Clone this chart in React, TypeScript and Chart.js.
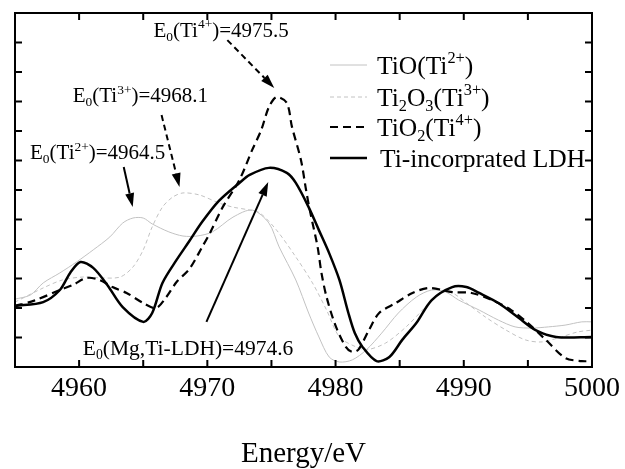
import React, { useEffect, useRef } from 'react';
import { Chart, registerables } from 'chart.js';

Chart.register(...registerables);

const FONT = "'Liberation Serif', 'Times New Roman', serif";

// ---- data ----
const tioE = [4955, 4956.2, 4957.2, 4958.5, 4959.8, 4961.1, 4962.4, 4963.4, 4964.2, 4965.0, 4965.7, 4967.0, 4968.1, 4969.2, 4970.4, 4972.0, 4973.5, 4974.8, 4975.6, 4976.9, 4977.9, 4978.7, 4979.5, 4980.3, 4981.3, 4982.4, 4983.6, 4984.9, 4986.3, 4987.5, 4988.6, 4989.6, 4991.2, 4992.7, 4994.0, 4995.3, 4996.6, 4997.9, 4999.2, 5000];
const tioY = [2.30, 2.44, 2.85, 3.19, 3.56, 3.97, 4.41, 4.88, 5.05, 5.05, 4.85, 4.58, 4.44, 4.44, 4.58, 5.08, 5.32, 4.88, 4.07, 2.95, 1.83, 1.02, 0.34, 0.17, 0.24, 0.58, 1.15, 1.83, 2.37, 2.61, 2.54, 2.27, 1.93, 1.59, 1.36, 1.32, 1.36, 1.42, 1.53, 1.53];

const ti2o3E = [4955, 4957.2, 4958.7, 4960.3, 4961.8, 4963.2, 4964.2, 4965.0, 4965.7, 4966.5, 4967.3, 4968.1, 4969.4, 4970.9, 4972.0, 4973.3, 4974.1, 4975.4, 4976.9, 4978.2, 4979.3, 4980.3, 4981.6, 4982.4, 4983.9, 4985.5, 4987.0, 4988.1, 4989.1, 4990.2, 4991.7, 4993.3, 4994.8, 4996.1, 4997.6, 4998.9, 5000];
const ti2o3Y = [2.20, 2.68, 2.95, 3.05, 3.02, 3.05, 3.39, 3.97, 4.75, 5.42, 5.76, 5.90, 5.83, 5.56, 5.42, 5.32, 5.22, 4.64, 3.73, 2.85, 1.93, 1.02, 0.68, 0.58, 0.81, 1.36, 2.03, 2.51, 2.51, 2.17, 1.69, 1.25, 0.92, 0.85, 1.02, 1.19, 1.25];

const tio2E = [4955, 4956.5, 4958.5, 4959.5, 4960.6, 4961.6, 4962.6, 4963.7, 4965.0, 4966.0, 4966.8, 4967.6, 4968.6, 4969.6, 4970.2, 4971.2, 4972.5, 4973.5, 4974.2, 4974.8, 4975.4, 4976.2, 4976.6, 4977.3, 4977.7, 4978.0, 4978.6, 4978.9, 4979.3, 4980.0, 4980.8, 4981.3, 4981.8, 4982.6, 4983.4, 4984.7, 4986.0, 4987.3, 4989.1, 4990.6, 4992.2, 4993.7, 4995.0, 4996.4, 4997.9, 4999.2, 5000];
const tio2Y = [2.07, 2.25, 2.61, 2.78, 3.02, 2.95, 2.71, 2.51, 2.17, 2.00, 2.37, 2.88, 3.32, 4.07, 4.54, 5.42, 6.34, 7.36, 8.03, 8.81, 9.15, 8.95, 8.14, 7.02, 6.00, 5.30, 4.07, 3.19, 2.37, 1.40, 0.68, 0.51, 0.60, 1.25, 1.83, 2.17, 2.51, 2.68, 2.54, 2.51, 2.27, 1.93, 1.49, 0.92, 0.31, 0.20, 0.20];

const ldhE = [4955, 4957.2, 4958.5, 4959.3, 4960.1, 4961.1, 4962.2, 4963.4, 4965.0, 4965.7, 4966.5, 4967.6, 4968.6, 4969.6, 4970.9, 4972.5, 4973.3, 4974.8, 4976.2, 4976.9, 4977.9, 4978.7, 4979.5, 4980.3, 4981.0, 4981.5, 4982.1, 4983.2, 4984.2, 4985.2, 4986.3, 4987.5, 4989.1, 4990.2, 4991.2, 4992.7, 4994.3, 4995.6, 4997.2, 5000];
const ldhY = [2.07, 2.20, 2.61, 3.19, 3.56, 3.36, 2.78, 2.03, 1.53, 1.83, 2.85, 3.63, 4.27, 4.92, 5.63, 6.24, 6.51, 6.75, 6.58, 6.24, 5.42, 4.64, 3.86, 2.95, 1.83, 1.15, 0.68, 0.20, 0.34, 0.92, 1.49, 2.27, 2.71, 2.71, 2.51, 2.17, 1.66, 1.25, 1.02, 1.02];

const xMin = 4955;
const xMax = 5000;
const xStep = 5;
const xLabelEvery = 10;
const yMin = 0;
const yMax = 12;
const xTitle = 'Energy/eV';

type Seg = [string, 'n' | 'sup' | 'sub'];

const seriesNames: Seg[][] = [
  [['TiO(Ti', 'n'], ['2+', 'sup'], [')', 'n']],
  [['Ti', 'n'], ['2', 'sub'], ['O', 'n'], ['3', 'sub'], ['(Ti', 'n'], ['3+', 'sup'], [')', 'n']],
  [['TiO', 'n'], ['2', 'sub'], ['(Ti', 'n'], ['4+', 'sup'], [')', 'n']],
  [['Ti-incorprated LDH', 'n']],
];

// annotation texts and arrows, anchored in data coordinates
const annotations: { segs: Seg[]; at: [number, number]; from: [number, number]; to: [number, number]; dashed: boolean; size: number }[] = [
  { segs: [['E', 'n'], ['0', 'sub'], ['(Ti', 'n'], ['4+', 'sup'], [')=4975.5', 'n']], at: [4965.8, 11.19], from: [4971.56, 11.08], to: [4975.22, 9.46], dashed: true, size: 21 },
  { segs: [['E', 'n'], ['0', 'sub'], ['(Ti', 'n'], ['3+', 'sup'], [')=4968.1', 'n']], at: [4959.5, 8.98], from: [4966.43, 8.54], to: [4967.83, 6.10], dashed: true, size: 21 },
  { segs: [['E', 'n'], ['0', 'sub'], ['(Ti', 'n'], ['2+', 'sup'], [')=4964.5', 'n']], at: [4956.17, 7.05], from: [4963.48, 6.78], to: [4964.18, 5.42], dashed: false, size: 21 },
  { segs: [['E', 'n'], ['0', 'sub'], ['(Mg,Ti-LDH)=4974.6', 'n']], at: [4960.29, 0.41], from: [4969.93, 1.53], to: [4974.75, 6.27], dashed: false, size: 21.5 },
];

const styles = [
  { color: '#c2c2c2', width: 1, dash: [] as number[] },
  { color: '#c2c2c2', width: 1, dash: [4, 3] },
  { color: '#000000', width: 2.2, dash: [8, 5] },
  { color: '#000000', width: 2.5, dash: [] as number[] },
];

function drawRich(ctx: CanvasRenderingContext2D, x: number, y: number, segs: Seg[], size: number) {
  let cx = x;
  ctx.textBaseline = 'alphabetic';
  ctx.textAlign = 'left';
  for (const [t, m] of segs) {
    const s = m === 'n' ? size : size * 0.64;
    const dy = m === 'sup' ? -size * 0.4 : m === 'sub' ? size * 0.2 : 0;
    ctx.font = `${s}px ${FONT}`;
    ctx.fillText(t, cx, y + dy);
    cx += ctx.measureText(t).width;
  }
}

function drawArrow(ctx: CanvasRenderingContext2D, x1: number, y1: number, x2: number, y2: number, dashed: boolean) {
  const ang = Math.atan2(y2 - y1, x2 - x1);
  const head = 14;
  const hw = 4.5;
  const bx = x2 - head * Math.cos(ang);
  const by = y2 - head * Math.sin(ang);
  ctx.save();
  ctx.strokeStyle = '#000';
  ctx.fillStyle = '#000';
  ctx.lineWidth = 2;
  ctx.setLineDash(dashed ? [6, 4] : []);
  ctx.beginPath();
  ctx.moveTo(x1, y1);
  ctx.lineTo(bx, by);
  ctx.stroke();
  ctx.setLineDash([]);
  ctx.beginPath();
  ctx.moveTo(x2, y2);
  ctx.lineTo(bx + hw * Math.sin(ang), by - hw * Math.cos(ang));
  ctx.lineTo(bx - hw * Math.sin(ang), by + hw * Math.cos(ang));
  ctx.closePath();
  ctx.fill();
  ctx.restore();
}

const framePlugin = {
  id: 'frame',
  afterDatasetsDraw(chart: any) {
    const { ctx, chartArea: a, scales } = chart;
    const xs = scales.x;
    const ys = scales.y;
    ctx.save();
    ctx.strokeStyle = '#000';
    ctx.lineWidth = 2;
    ctx.setLineDash([]);
    ctx.strokeRect(a.left, a.top, a.right - a.left, a.bottom - a.top);
    const tl = 7;
    ctx.beginPath();
    for (const t of xs.ticks) {
      const p = xs.getPixelForValue(t.value);
      ctx.moveTo(p, a.bottom);
      ctx.lineTo(p, a.bottom - tl);
      ctx.moveTo(p, a.top);
      ctx.lineTo(p, a.top + tl);
    }
    for (const t of ys.ticks) {
      const p = ys.getPixelForValue(t.value);
      ctx.moveTo(a.left, p);
      ctx.lineTo(a.left + tl, p);
      ctx.moveTo(a.right, p);
      ctx.lineTo(a.right - tl, p);
    }
    ctx.stroke();

    // annotations
    ctx.fillStyle = '#000';
    for (const an of annotations) {
      drawRich(ctx, xs.getPixelForValue(an.at[0]), ys.getPixelForValue(an.at[1]), an.segs, an.size);
      drawArrow(
        ctx,
        xs.getPixelForValue(an.from[0]), ys.getPixelForValue(an.from[1]),
        xs.getPixelForValue(an.to[0]), ys.getPixelForValue(an.to[1]),
        an.dashed
      );
    }

    // legend
    const lx1 = a.left + 315;
    const lx2 = a.left + 352;
    const tx = a.left + 362;
    const rows = [a.top + 52, a.top + 84, a.top + 114, a.top + 145];
    seriesNames.forEach((segs, i) => {
      const st = styles[i];
      const y = rows[i];
      ctx.strokeStyle = st.color;
      ctx.lineWidth = st.width;
      ctx.setLineDash(st.dash);
      ctx.beginPath();
      ctx.moveTo(lx1, y);
      ctx.lineTo(lx2, y);
      ctx.stroke();
      ctx.setLineDash([]);
      ctx.fillStyle = '#000';
      drawRich(ctx, tx + (i === 3 ? 3 : 0), y + 8.5, segs, 25.5);
    });
    ctx.restore();
  },
};

export default function App() {
  const ref = useRef<HTMLCanvasElement | null>(null);
  useEffect(() => {
    if (!ref.current) return;
    const series = [
      { e: tioE, y: tioY },
      { e: ti2o3E, y: ti2o3Y },
      { e: tio2E, y: tio2Y },
      { e: ldhE, y: ldhY },
    ];
    const labels = ['TiO(Ti2+)', 'Ti2O3(Ti3+)', 'TiO2(Ti4+)', 'Ti-incorprated LDH'];
    const chart = new Chart(ref.current, {
      type: 'line',
      data: {
        datasets: series.map((s, i) => ({
          label: labels[i],
          data: s.e.map((e, j) => ({ x: e, y: s.y[j] })),
          borderColor: styles[i].color,
          borderWidth: styles[i].width,
          borderDash: styles[i].dash,
          pointRadius: 0,
          fill: false,
          tension: 0.3,
          order: 4 - i,
        })),
      },
      options: {
        animation: false,
        responsive: false,
        devicePixelRatio: 1,
        layout: { padding: { left: 15, right: 33, top: 13, bottom: 0 } },
        plugins: { legend: { display: false }, tooltip: { enabled: false } },
        scales: {
          x: {
            type: 'linear',
            min: xMin,
            max: xMax,
            ticks: {
              stepSize: xStep,
              autoSkip: false,
              maxRotation: 0,
              padding: 5,
              color: '#000',
              font: { family: FONT, size: 28 },
              callback: (v: any) => (Number(v) % xLabelEvery === 0 ? String(v) : ''),
            },
            grid: { display: false, drawTicks: false },
            border: { display: false },
            title: { display: true, text: xTitle, color: '#000', font: { family: FONT, size: 29, lineHeight: 1 }, padding: 0 },
            afterFit: (s: any) => { s.height = 102; },
          },
          y: {
            type: 'linear',
            min: yMin,
            max: yMax,
            ticks: { display: false, stepSize: 1 },
            grid: { display: false, drawTicks: false },
            border: { display: false },
            afterFit: (s: any) => { s.width = 0; },
          },
        },
      },
      plugins: [framePlugin],
    } as any);
    return () => chart.destroy();
  }, []);
  return (
    <div style={{ position: 'fixed', left: 0, top: 0, width: 625, height: 469, background: '#fff' }}>
      <canvas ref={ref} width={625} height={469} style={{ width: 625, height: 469 }} />
    </div>
  );
}
